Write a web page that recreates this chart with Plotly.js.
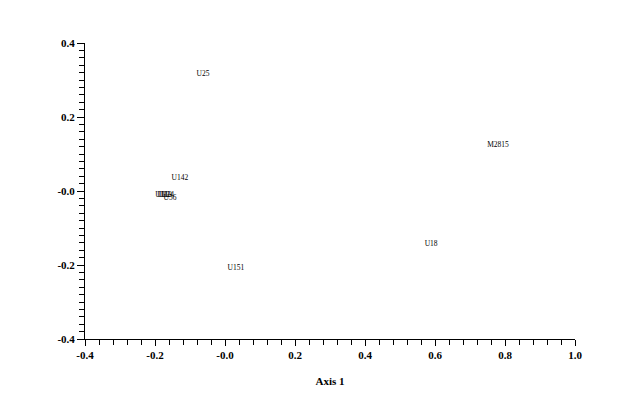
<!DOCTYPE html>
<html>
<head>
<meta charset="utf-8">
<script src="https://cdn.plot.ly/plotly-3.0.1.min.js"></script>
<style>html,body{margin:0;padding:0;background:#fff;}#chart{width:624px;height:413px;}</style>
</head>
<body>
<div id="chart"></div>
<script>
// Point labels and coordinates (Axis 1, Axis 2)
const pointLabels = ["U25", "M2815", "U18", "U151", "U142", "U11", "U12", "U13", "U14", "U56"];
const axis1Values = [-0.063, 0.78, 0.589, 0.031, -0.129, -0.181, -0.175, -0.170, -0.164, -0.157];
const axis2Values = [0.316, 0.124, -0.143, -0.208, 0.035, -0.011, -0.011, -0.011, -0.011, -0.019];

const xTickVals = [-0.4, -0.2, 0.0, 0.2, 0.4, 0.6, 0.8, 1.0];
const xTickText = ["-0.4", "-0.2", "-0.0", "0.2", "0.4", "0.6", "0.8", "1.0"];
const yTickVals = [-0.4, -0.2, 0.0, 0.2, 0.4];
const yTickText = ["-0.4", "-0.2", "-0.0", "0.2", "0.4"];

const serif = "Liberation Serif, Times New Roman, serif";

const trace = {
  type: "scatter",
  mode: "text",
  x: axis1Values,
  y: axis2Values,
  text: pointLabels,
  textposition: "middle center",
  textfont: {family: serif, size: 7.5, color: "black"},
  hoverinfo: "none",
  cliponaxis: false
};

const tickFont = {family: serif, size: 11, color: "black", weight: "bold"};

const layout = {
  width: 624,
  height: 413,
  margin: {l: 85, r: 49, t: 43, b: 74},
  paper_bgcolor: "white",
  plot_bgcolor: "white",
  showlegend: false,
  xaxis: {
    range: [-0.4, 1.0],
    tickmode: "array",
    tickvals: xTickVals,
    ticktext: xTickText,
    ticks: "outside",
    ticklen: 6,
    tickwidth: 1,
    tickcolor: "black",
    showline: true,
    linecolor: "black",
    linewidth: 1,
    showgrid: false,
    zeroline: false,
    tickfont: tickFont,
    minor: {tickmode: "linear", tick0: -0.4, dtick: 0.04, ticks: "outside", ticklen: 5, tickcolor: "black", showgrid: false},
    title: {text: "Axis 1", font: {family: serif, size: 11, color: "black", weight: "bold"}, standoff: 17}
  },
  yaxis: {
    range: [-0.4, 0.4],
    tickmode: "array",
    tickvals: yTickVals,
    ticktext: yTickText,
    ticks: "outside",
    ticklen: 7,
    tickwidth: 1,
    tickcolor: "black",
    showline: true,
    linecolor: "black",
    linewidth: 1,
    showgrid: false,
    zeroline: false,
    tickfont: tickFont,
    minor: {tickmode: "linear", tick0: -0.4, dtick: 0.02, ticks: "outside", ticklen: 5, tickcolor: "black", showgrid: false}
  }
};

Plotly.newPlot("chart", [trace], layout, {displayModeBar: false, staticPlot: true});
</script>
</body>
</html>
